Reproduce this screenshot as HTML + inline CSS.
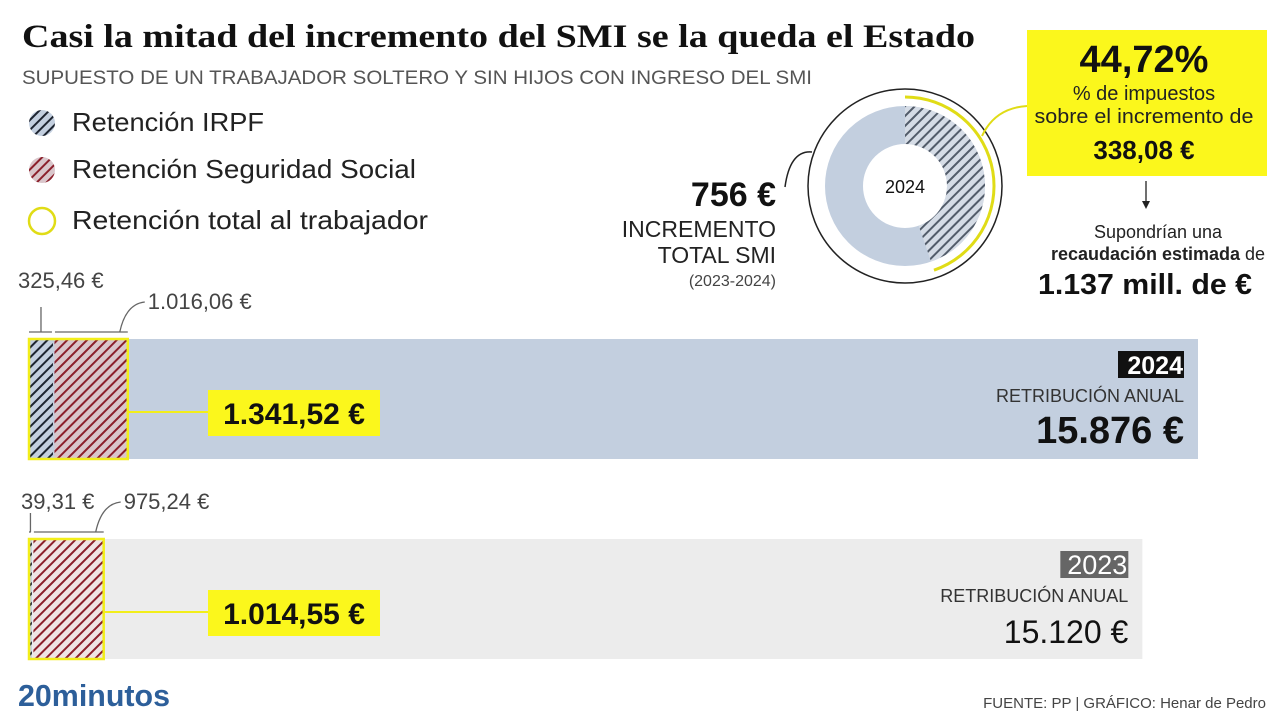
<!DOCTYPE html>
<html><head><meta charset="utf-8"><style>
body{margin:0;width:1280px;height:720px;background:#fff;overflow:hidden;font-family:"Liberation Sans",sans-serif}
svg{display:block}
</style></head><body>
<svg id="c" width="1280" height="720" xmlns="http://www.w3.org/2000/svg">
<defs>
<pattern id="hIrpf" patternUnits="userSpaceOnUse" width="7" height="7" patternTransform="rotate(-45)"><rect width="7" height="7" fill="#c3cfdf"/><rect width="7" height="2" fill="#1d2430"/></pattern>
<pattern id="hSS" patternUnits="userSpaceOnUse" width="7" height="7" patternTransform="rotate(-45)"><rect width="7" height="7" fill="#d9c6cb"/><rect width="7" height="2" fill="#8b1f2b"/></pattern>
<pattern id="hSS23" patternUnits="userSpaceOnUse" width="7" height="7" patternTransform="rotate(-45)"><rect width="7" height="7" fill="#efe4e4"/><rect width="7" height="2" fill="#8b1f2b"/></pattern>
<pattern id="hDon" patternUnits="userSpaceOnUse" width="7" height="7" patternTransform="rotate(-45)"><rect width="7" height="7" fill="#d5dce6"/><rect width="7" height="2" fill="#525c6a"/></pattern>
</defs>
<text x="22" y="47" font-family="Liberation Serif,serif" font-weight="bold" font-size="33" textLength="953" lengthAdjust="spacingAndGlyphs" fill="#111">Casi la mitad del incremento del SMI se la queda el Estado</text>
<text x="22" y="84" font-size="19" textLength="790" lengthAdjust="spacingAndGlyphs" fill="#555">SUPUESTO DE UN TRABAJADOR SOLTERO Y SIN HIJOS CON INGRESO DEL SMI</text>
<g>
<circle cx="42" cy="123" r="13" fill="url(#hIrpf)"/>
<text x="72" y="131" font-size="26" textLength="192" lengthAdjust="spacingAndGlyphs" fill="#222">Retención IRPF</text>
<circle cx="42" cy="170" r="13" fill="url(#hSS)"/>
<text x="72" y="178" font-size="26" textLength="344" lengthAdjust="spacingAndGlyphs" fill="#222">Retención Seguridad Social</text>
<circle cx="42" cy="221" r="13" fill="none" stroke="#e0dc16" stroke-width="2.5"/>
<text x="72" y="229" font-size="26" textLength="356" lengthAdjust="spacingAndGlyphs" fill="#222">Retención total al trabajador</text>
</g>
<g id="donut"></g>
<g id="bars"></g>
<text x="776" y="206" text-anchor="end" font-size="34" font-weight="bold" fill="#111">756 €</text>
<text x="776" y="237" text-anchor="end" font-size="23" fill="#222">INCREMENTO</text>
<text x="776" y="263" text-anchor="end" font-size="23" fill="#222">TOTAL SMI</text>
<text x="776" y="286" text-anchor="end" font-size="16" fill="#444">(2023-2024)</text>
<path d="M785,187 Q790,150 812,152" fill="none" stroke="#222" stroke-width="1.5"/>
<rect x="1027" y="30" width="240" height="146" fill="#fbf71c"/>
<text x="1144" y="72" text-anchor="middle" font-size="38" font-weight="bold" fill="#111">44,72%</text>
<text x="1144" y="100" text-anchor="middle" font-size="20" fill="#222">% de impuestos</text>
<text x="1144" y="123" text-anchor="middle" font-size="20" textLength="219" lengthAdjust="spacingAndGlyphs" fill="#222">sobre el incremento de</text>
<text x="1144" y="159" text-anchor="middle" font-size="26" font-weight="bold" fill="#111">338,08 €</text>
<path d="M982,136 Q995,108 1027,106" fill="none" stroke="#e0dc16" stroke-width="2"/>
<line x1="1146" y1="181" x2="1146" y2="204" stroke="#222" stroke-width="1.3"/>
<path d="M1142,201 L1146,209 L1150,201Z" fill="#222"/>
<text x="1158" y="238" text-anchor="middle" font-size="18" fill="#222">Supondrían una</text>
<text x="1158" y="260" text-anchor="middle" font-size="18" fill="#222"><tspan font-weight="bold">recaudación estimada</tspan> de</text>
<text x="1145" y="294" text-anchor="middle" font-size="29" font-weight="bold" textLength="214" lengthAdjust="spacingAndGlyphs" fill="#111">1.137 mill. de €</text>
<text x="18" y="706" font-size="31" font-weight="bold" fill="#2d5f9a" textLength="152" lengthAdjust="spacingAndGlyphs">20minutos</text>
<text x="1266" y="708" text-anchor="end" font-size="15" fill="#444">FUENTE: PP  |  GRÁFICO: Henar de Pedro</text>
</svg>
<script>
const years = ["2024","2023"];
const irpf = [325.46, 39.31];
const ss = [1016.06, 975.24];
const totals = [1341.52, 1014.55];
const annual = [15876, 15120];
const irpfLabels = ["325,46 €","39,31 €"];
const ssLabels = ["1.016,06 €","975,24 €"];
const totalLabels = ["1.341,52 €","1.014,55 €"];
const annualLabels = ["15.876 €","15.120 €"];
const donutShare = [44.72];

const NS="http://www.w3.org/2000/svg";
function mk(tag,attrs,parent,txt){const e=document.createElementNS(NS,tag);for(const k in attrs)e.setAttribute(k,attrs[k]);if(txt!==undefined)e.textContent=txt;parent.appendChild(e);return e;}
const x0=29, pxPer=1169/15876;
const xs=v=>x0+v*pxPer;
const barY=[339,539], barH=120;
const bars=document.getElementById('bars');
years.forEach((yr,i)=>{
  const y=barY[i];
  const bg=mk('rect',{x:x0,y:y,width:xs(annual[i])-x0,height:barH,fill:i==0?'#c3cfdf':'#ececec'},bars);
  
  
  const r1=mk('rect',{x:x0,y:y,width:xs(irpf[i])-x0,height:barH,fill:'url(#hIrpf)'},bars);
  
  
  const r2=mk('rect',{x:xs(irpf[i])+1.5,y:y,width:xs(irpf[i]+ss[i])-xs(irpf[i])-1.5,height:barH,fill:i==0?'url(#hSS)':'url(#hSS23)'},bars);
  
  
  const tEnd=xs(totals[i]);
  const ol=mk('rect',{x:x0,y:y,width:tEnd-x0,height:barH,fill:'none',stroke:'#f2ee1a','stroke-width':2.5},bars);
  
  
  mk('line',{x1:tEnd,y1:y+73,x2:209,y2:y+73,stroke:'#f2ee1a','stroke-width':2},bars);
  const tb=mk('rect',{x:208,y:y+51,width:172,height:46,fill:'#fbf71c'},bars);
  
  
  const tt=mk('text',{x:294,y:y+85,'text-anchor':'middle','font-size':30,'font-weight':'bold',fill:'#111'},bars,totalLabels[i]);
  
  
  const ax=xs(irpf[i]);
  mk('line',{x1:x0,y1:y-7,x2:ax-1,y2:y-7,stroke:'#666','stroke-width':1.3},bars);
  mk('line',{x1:ax+2,y1:y-7,x2:tEnd,y2:y-7,stroke:'#666','stroke-width':1.3},bars);
  mk('line',{x1:(x0+ax)/2,y1:y-7,x2:(x0+ax)/2,y2:i==0?y-32:y-26,stroke:'#666','stroke-width':1.3},bars);
  mk('path',{d:`M${tEnd-8},${y-7} Q${tEnd-2},${y-35} ${tEnd+17},${y-37}`,fill:'none',stroke:'#666','stroke-width':1.3},bars);
  const l1=mk('text',{x:i==0?18:21,y:i==0?y-51:y-30,'font-size':22,fill:'#444'},bars,irpfLabels[i]);
  
  
  const l2=mk('text',{x:tEnd+20,y:y-30,'font-size':22,fill:'#444'},bars,ssLabels[i]);
  
  
  const right=xs(annual[i])-14;
  const yb=mk('rect',{x:right-(i==0?66:68),y:y+12,width:i==0?66:68,height:27,fill:i==0?'#111':'#666'},bars);
  
  
  mk('text',{x:right-1,y:y+35,'text-anchor':'end','font-size':i==0?25:27,'font-weight':i==0?'bold':'normal',fill:'#fff'},bars,yr);
  const ra=mk('text',{x:right,y:y+63,'text-anchor':'end','font-size':18,fill:'#333'},bars,'RETRIBUCIÓN ANUAL');
  
  
  const av=mk('text',{x:right,y:y+104,'text-anchor':'end','font-size':i==0?38:32,'font-weight':i==0?'bold':'normal',fill:'#111'},bars,annualLabels[i]);
  
  
});
const d=document.getElementById('donut');
const cx=905,cy=186,R=80,r=42;
mk('circle',{cx:cx,cy:cy,r:97,fill:'none',stroke:'#222','stroke-width':1.5},d);
const bgc=mk('circle',{cx:cx,cy:cy,r:(R+r)/2,fill:'none',stroke:'#c3cfdf','stroke-width':R-r},d);


const a=donutShare[0]/100*2*Math.PI;
const pt=(rad,ang)=>[cx+rad*Math.sin(ang),cy-rad*Math.cos(ang)];
const large=a>Math.PI?1:0;
const [ox,oy]=pt(R,a),[ix,iy]=pt(r,a);
const sl=mk('path',{d:`M${cx},${cy-R} A${R},${R} 0 ${large} 1 ${ox},${oy} L${ix},${iy} A${r},${r} 0 ${large} 0 ${cx},${cy-r}Z`,fill:'url(#hDon)'},d);


const YR=89;const [yx,yy]=pt(YR,a);
const arc=mk('path',{d:`M${cx},${cy-YR} A${YR},${YR} 0 ${large} 1 ${yx},${yy}`,fill:'none',stroke:'#e0dc16','stroke-width':3},d);


const dl=mk('text',{x:cx,y:cy+7,'text-anchor':'middle','font-size':18,fill:'#111'},d,'2024');


</script>
</body></html>
